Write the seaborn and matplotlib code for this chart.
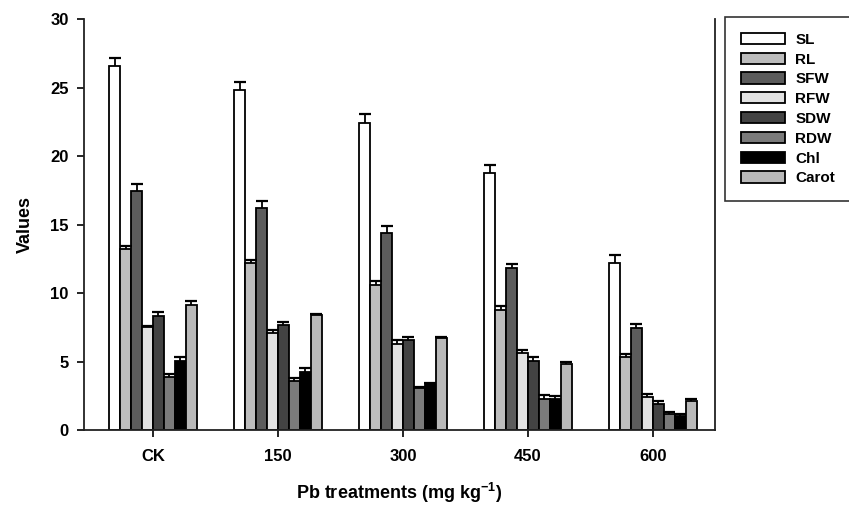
import matplotlib
matplotlib.use("Agg")
import matplotlib.pyplot as plt
import seaborn as sns
import pandas as pd
import numpy as np

treatments = ["CK", "150", "300", "450", "600"]
series = ["SL", "RL", "SFW", "RFW", "SDW", "RDW", "Chl", "Carot"]
SL = [26.6, 24.8, 22.45, 18.75, 12.2]
RL = [13.2, 12.2, 10.6, 8.8, 5.3]
SFW = [17.45, 16.2, 14.4, 11.8, 7.45]
RFW = [7.5, 7.05, 6.3, 5.6, 2.4]
SDW = [8.35, 7.65, 6.55, 5.05, 1.9]
RDW = [3.85, 3.55, 3.1, 2.3, 1.2]
Chl = [5.05, 4.25, 3.35, 2.25, 1.0]
Carot = [9.15, 8.4, 6.7, 4.85, 2.15]
SL_err = [0.55, 0.6, 0.6, 0.6, 0.55]
RL_err = [0.25, 0.2, 0.25, 0.25, 0.25]
SFW_err = [0.5, 0.5, 0.5, 0.35, 0.3]
RFW_err = [0.1, 0.25, 0.25, 0.25, 0.2]
SDW_err = [0.25, 0.25, 0.25, 0.25, 0.2]
RDW_err = [0.25, 0.25, 0.05, 0.25, 0.15]
Chl_err = [0.25, 0.25, 0.05, 0.25, 0.15]
Carot_err = [0.25, 0.1, 0.1, 0.1, 0.1]

values = [SL, RL, SFW, RFW, SDW, RDW, Chl, Carot]
errors = [SL_err, RL_err, SFW_err, RFW_err, SDW_err, RDW_err, Chl_err, Carot_err]
colors = ["#ffffff", "#bdbdbd", "#5c5c5c", "#e2e2e2", "#434343", "#7b7b7b", "#000000", "#b9b9b9"]

rows = []
for s, vals, errs in zip(series, values, errors):
    for t, v, e in zip(treatments, vals, errs):
        rows.append({"Treatment": t, "Series": s, "Value": v, "Err": e})
df = pd.DataFrame(rows)

plt.rcParams['font.family'] = ['Liberation Sans', 'DejaVu Sans']
plt.rcParams['font.weight'] = 'bold'
plt.rcParams['mathtext.fontset'] = 'custom'
plt.rcParams['mathtext.rm'] = 'Liberation Sans:bold'
plt.rcParams['mathtext.bf'] = 'Liberation Sans:bold'

fig = plt.figure(figsize=(8.49, 5.05), dpi=100)
ax = fig.add_axes([0.099, 0.1485, 0.743, 0.8135])

sns.barplot(data=df, x="Treatment", y="Value", hue="Series", order=treatments,
            hue_order=series, palette=colors, width=0.7, dodge=True,
            edgecolor="black", linewidth=1.3, errorbar=None, ax=ax, legend=False,
            saturation=1)

# error bars (upper only)
for i, s in enumerate(series):
    cont = ax.containers[i]
    xs = np.array([p.get_x() + p.get_width() / 2 for p in cont.patches])
    hs = np.array([p.get_height() for p in cont.patches])
    errs = np.array(errors[i])
    ax.vlines(xs, hs, hs + errs, colors="black", linewidth=1.3, zorder=3)
    ax.plot(xs, hs + errs, ls="none", marker="_", markersize=8, mew=1.6,
            color="black", zorder=3)

ax.set_xlim(-0.552, 4.496)
ax.set_ylim(0, 30)
ax.set_yticks([0, 5, 10, 15, 20, 25, 30])
ax.spines['top'].set_visible(False)
for sp in ['left', 'bottom', 'right']:
    ax.spines[sp].set_linewidth(1.3)
    ax.spines[sp].set_color('#222222')
ax.tick_params(axis='both', direction='out', length=5, width=1.2, labelsize=12, pad=6)
ax.tick_params(axis='x', pad=9)
for lab in ax.get_xticklabels() + ax.get_yticklabels():
    lab.set_fontweight('bold')
ax.set_ylabel("Values", fontsize=13, fontweight='bold', labelpad=12)
ax.set_xlabel("Pb treatments (mg kg$^{\\mathregular{-1}}$)", fontsize=13, fontweight='bold', labelpad=12)

from matplotlib.patches import Patch
handles = [Patch(facecolor=c, edgecolor='black', linewidth=1.3, label=s) for c, s in zip(colors, series)]
leg = fig.legend(handles=handles, loc='upper left', bbox_to_anchor=(0.854, 0.967),
                 frameon=True, fancybox=False, edgecolor='black', fontsize=11,
                 handlelength=2.9, handleheight=0.75, labelspacing=0.38,
                 borderpad=1.05, handletextpad=0.65, borderaxespad=0)
leg.get_frame().set_linewidth(1.2)
for t in leg.get_texts():
    t.set_fontweight('bold')

fig.savefig("out.png", dpi=100)
